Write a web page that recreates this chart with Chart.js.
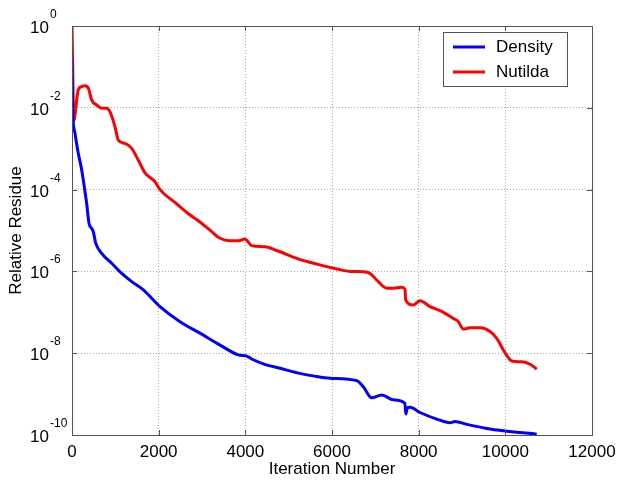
<!DOCTYPE html>
<html>
<head>
<meta charset="utf-8">
<script src="https://cdn.jsdelivr.net/npm/chart.js@4/dist/chart.umd.min.js"></script>
<style>
body { margin: 0; background: #fff; }
#wrap { width: 618px; height: 486px; }
</style>
</head>
<body>
<div id="wrap"><canvas id="myChart" width="618" height="486"></canvas></div>
<script>
const seriesNames = ['Density', 'Nutilda']

const densityIter = [0, 15, 25, 69, 145, 224, 284, 339, 392, 455,
  492, 547, 685, 916, 1147, 1378, 1646, 2031, 2493, 2954,
  3416, 3838, 4032, 4184, 4415, 4800, 5200, 5600, 5955, 6571,
  6723, 6917, 7148, 7416, 7680, 7705, 7740, 7801, 8032, 8417,
  8724, 8840, 9110, 9571, 9994, 10725]
const densityRes = [1.58e-1, 1e-2, 5e-3, 2.4e-3, 7.76e-4, 3.02e-4, 1.17e-4, 4.57e-5, 1.51e-5, 1.12e-5,
  9.33e-6, 4.9e-6, 2.75e-6, 1.58e-6, 8.91e-7, 5.62e-7, 3.55e-7, 1.38e-7, 5.89e-8, 3.09e-8,
  1.58e-8, 9.12e-9, 8.51e-9, 6.92e-9, 5.5e-9, 4.27e-9, 3.31e-9, 2.75e-9, 2.45e-9, 2.14e-9,
  1.51e-9, 8.13e-10, 9.55e-10, 7.24e-10, 6.03e-10, 3.24e-10, 4.68e-10, 4.79e-10, 3.55e-10, 2.45e-10,
  2e-10, 2.14e-10, 1.82e-10, 1.45e-10, 1.26e-10, 1.05e-10]

const nutildaIter = [0, 45, 92, 108, 145, 224, 300, 376, 455, 570,
  685, 800, 877, 992, 1069, 1223, 1378, 1530, 1685, 1916,
  2030, 2360, 2700, 2900, 3185, 3416, 3647, 3850, 3990, 4148,
  4454, 4725, 5186, 5648, 6109, 6416, 6723, 6878, 7069, 7263,
  7416, 7610, 7686, 7700, 7877, 8032, 8262, 8493, 8800, 8916,
  9031, 9186, 9417, 9647, 9802, 9994, 10148, 10379, 10571, 10725]
const nutildaRes = [1, 5e-3, 1.07e-2, 1.55e-2, 2.75e-2, 3.31e-2, 3.47e-2, 3.02e-2, 1.55e-2, 1.17e-2,
  9.77e-3, 9.77e-3, 7.94e-3, 3.47e-3, 1.62e-3, 1.35e-3, 1.02e-3, 5.25e-4, 2.57e-4, 1.55e-4,
  1e-4, 5e-5, 2.5e-5, 1.78e-5, 1.02e-5, 6.46e-6, 5.62e-6, 5.62e-6, 6.17e-6, 4.27e-6,
  3.98e-6, 3.24e-6, 2.09e-6, 1.51e-6, 1.15e-6, 1e-6, 9.77e-7, 8.91e-7, 5.62e-7, 3.89e-7,
  3.89e-7, 4.07e-7, 3.63e-7, 2e-7, 1.51e-7, 1.91e-7, 1.38e-7, 1.1e-7, 7.08e-8, 5.89e-8,
  3.89e-8, 4.17e-8, 4.17e-8, 3.39e-8, 2.29e-8, 1.02e-8, 6.46e-9, 6.17e-9, 5.37e-9, 4.07e-9]

const xTicks = [0, 2000, 4000, 6000, 8000, 10000, 12000]
const yTicks = [1, 1e-2, 1e-4, 1e-6, 1e-8, 1e-10]

const FONT = '"Liberation Sans", Arial, Helvetica, sans-serif'

function toPoints(xs, ys) {
  return xs.map((v, i) => ({x: v, y: ys[i]}))
}

// draws box, inward tick marks, 10^n labels and the legend
const decor = {
  id: 'decor',
  afterDraw(chart) {
    const ctx = chart.ctx
    const a = chart.chartArea
    const x = chart.scales.x
    const y = chart.scales.y
    ctx.save()
    ctx.strokeStyle = '#555'
    ctx.lineWidth = 1
    ctx.strokeRect(Math.round(a.left) + 0.5, Math.round(a.top) + 0.5,
      Math.round(a.right - a.left), Math.round(a.bottom - a.top))

    ctx.beginPath()
    x.ticks.forEach(t => {
      const px = Math.round(x.getPixelForValue(t.value)) + 0.5
      ctx.moveTo(px, a.top); ctx.lineTo(px, a.top + 5)
      ctx.moveTo(px, a.bottom); ctx.lineTo(px, a.bottom - 5)
    })
    y.ticks.forEach(t => {
      const py = Math.round(y.getPixelForValue(t.value)) + 0.5
      ctx.moveTo(a.left, py); ctx.lineTo(a.left + 5, py)
      ctx.moveTo(a.right, py); ctx.lineTo(a.right - 5, py)
    })
    ctx.stroke()

    ctx.fillStyle = '#000'
    ctx.textAlign = 'left'
    ctx.textBaseline = 'alphabetic'
    y.ticks.forEach(t => {
      const py = y.getPixelForValue(t.value)
      const e = Math.round(Math.log10(t.value))
      ctx.font = '17px ' + FONT
      ctx.fillText('10', 30, py + 7)
      ctx.font = '12px ' + FONT
      ctx.fillText(String(e), 50, py - 8)
    })

    // legend
    const lx = 443, ly = 32, lw = 124, lh = 54
    ctx.fillStyle = '#fff'
    ctx.fillRect(lx, ly, lw, lh)
    ctx.strokeStyle = '#555'
    ctx.strokeRect(lx + 0.5, ly + 0.5, lw, lh)
    chart.data.datasets.forEach((ds, i) => {
      const cy = 47 + i * 25
      ctx.strokeStyle = ds.borderColor
      ctx.lineWidth = 3
      ctx.beginPath()
      ctx.moveTo(453, cy); ctx.lineTo(485, cy)
      ctx.stroke()
      ctx.fillStyle = '#000'
      ctx.font = '17px ' + FONT
      ctx.textBaseline = 'middle'
      ctx.fillText(ds.label, 496, cy)
    })
    ctx.restore()
  }
}

var ctx = document.getElementById('myChart').getContext('2d')
var chart = new Chart(ctx, {
  type: 'line',
  data: {
    datasets: [{
      label: seriesNames[0],
      data: toPoints(densityIter, densityRes),
      borderColor: 'rgb(0, 0, 255)',
      borderWidth: 3,
      pointRadius: 0,
      fill: false,
      cubicInterpolationMode: 'monotone'
    }, {
      label: seriesNames[1],
      data: toPoints(nutildaIter, nutildaRes),
      borderColor: 'rgb(255, 0, 0)',
      borderWidth: 3,
      pointRadius: 0,
      fill: false,
      cubicInterpolationMode: 'monotone'
    }]
  },
  options: {
    responsive: false,
    animation: false,
    layout: { padding: { top: 26, right: 26, left: 0, bottom: 0 } },
    plugins: { legend: { display: false }, tooltip: { enabled: false } },
    scales: {
      x: {
        type: 'linear',
        min: 0,
        max: 12000,
        afterBuildTicks: s => { s.ticks = xTicks.map(v => ({value: v})) },
        afterFit: s => { s.height = 51; s.paddingLeft = 0; s.paddingRight = 0 },
        grid: { color: '#aaa', drawTicks: false },
        border: { display: false, dash: [1, 2] },
        ticks: { color: '#000', padding: 7, maxRotation: 0, font: { family: FONT, size: 17 },
          callback: v => String(v) },
        title: { display: true, text: 'Iteration Number', color: '#000',
          padding: { top: 0, bottom: 6 }, font: { family: FONT, size: 17 } }
      },
      y: {
        type: 'logarithmic',
        min: 1e-10,
        max: 1,
        afterBuildTicks: s => { s.ticks = yTicks.map(v => ({value: v})) },
        afterFit: s => { s.width = 72; s.paddingTop = 0; s.paddingBottom = 0 },
        grid: { color: '#aaa', drawTicks: false },
        border: { display: false, dash: [1, 2] },
        ticks: { display: false },
        title: { display: true, text: 'Relative Residue', color: '#000',
          padding: { top: 6, bottom: 0 }, font: { family: FONT, size: 17 } }
      }
    }
  },
  plugins: [decor]
})
</script>
</body>
</html>
